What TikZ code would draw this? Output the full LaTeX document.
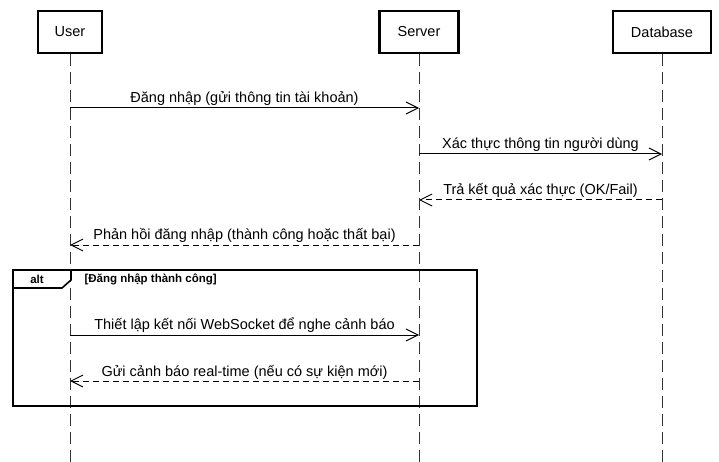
\documentclass[tikz,border=0pt]{standalone}
\usepackage{fontspec}
\setmainfont{Liberation Sans}
\usetikzlibrary{arrows.meta}
\definecolor{ink}{HTML}{000000}
\definecolor{lifec}{HTML}{333333}

\begin{document}
\begin{tikzpicture}[x=1pt,y=-1pt,font=\fontsize{14.5}{17}\selectfont,
  actor/.style={draw=ink,line width=2.2pt,fill=white,inner sep=0pt},
  lifeline/.style={lifec,line width=1pt,dash pattern=on 12pt off 6pt},
  msg/.style={ink,line width=1pt,-{Straight Barb[length=12pt,width=12pt,line width=1pt]}},
  reply/.style={msg,dash pattern=on 6pt off 4pt},
  lbl/.style={midway,above=0pt,inner sep=1.5pt}]
\useasboundingbox (0,0) rectangle (719,462);
\coordinate (bot) at (0,462);
% lifelines
\node[actor,minimum width=64pt,minimum height=42pt] (user) at (70,32) {User};
\node[actor,minimum width=79pt,minimum height=42pt] (server) at (419,32) {Server};
\node[actor,minimum width=98pt,minimum height=42pt] (db) at (662,32) {Database};
\foreach \n in {user,server,db}{\draw[lifeline] (\n.south) -- (\n |- bot);}
% message rows
\foreach \r/\y in {m1/108,m2/154,m3/200,m4/245,m5/335,m6/381}{\coordinate (\r) at (0,\y);}
\draw[msg] (user |- m1) -- (server |- m1) node[lbl]{Đăng nhập (gửi thông tin tài khoản)};
\draw[msg] (server |- m2) -- (db |- m2) node[lbl]{Xác thực thông tin người dùng};
\draw[reply] (db |- m3) -- (server |- m3) node[lbl]{Trả kết quả xác thực (OK/Fail)};
\draw[reply] (server |- m4) -- (user |- m4) node[lbl]{Phản hồi đăng nhập (thành công hoặc thất bại)};
% alt fragment
\draw[ink,line width=2.2pt] (13,270) rectangle (477,406);
\draw[ink,line width=1.6pt] (13,288) -- (62,288) -- (71,280) -- (71,270);
\node[font=\fontsize{11.5}{13}\selectfont\bfseries] (alt) at (37,279) {alt};
\node[font=\fontsize{11.5}{13}\selectfont\bfseries,anchor=west] (guard) at (81,279) {[Đăng nhập thành công]};
\draw[msg] (user |- m5) -- (server |- m5) node[lbl]{Thiết lập kết nối WebSocket để nghe cảnh báo};
\draw[reply] (server |- m6) -- (user |- m6) node[lbl]{Gửi cảnh báo real-time (nếu có sự kiện mới)};
\end{tikzpicture}
\end{document}
